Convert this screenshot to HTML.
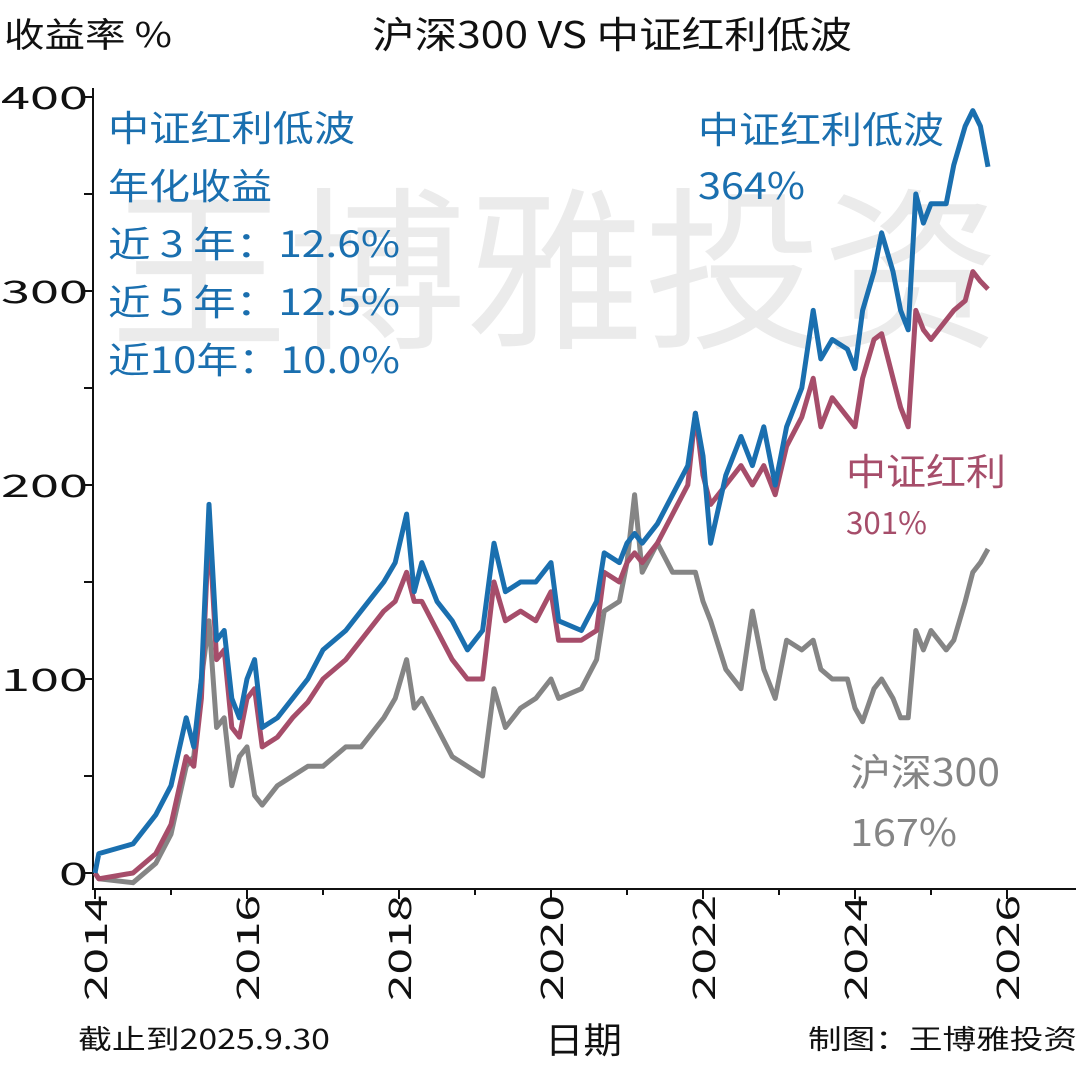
<!DOCTYPE html>
<html><head><meta charset="utf-8"><style>
body{margin:0;background:#fff;}
svg text{font-family:"Noto Sans CJK SC","Liberation Sans",sans-serif;}
</style></head><body>
<svg width="1080" height="1060" viewBox="0 0 1080 1060" xmlns="http://www.w3.org/2000/svg">
<text x="110" y="335" font-size="175" fill="#ebebeb" textLength="890" lengthAdjust="spacingAndGlyphs">王博雅投资</text>
<text x="4" y="47" font-size="34" fill="#111" textLength="168" lengthAdjust="spacingAndGlyphs">收益率 %</text>
<text x="372" y="48" font-size="37" fill="#111" textLength="480" lengthAdjust="spacingAndGlyphs">沪深300 VS 中证红利低波</text>
<g id="axes"></g>
<g id="series"></g>
<g fill="#1a6faf" font-size="36" lengthAdjust="spacingAndGlyphs">
<text x="108" y="141" textLength="247" lengthAdjust="spacingAndGlyphs">中证红利低波</text>
<text x="108" y="199" textLength="164" lengthAdjust="spacingAndGlyphs">年化收益</text>
<text x="108" y="257" textLength="292" lengthAdjust="spacingAndGlyphs">近 3 年：12.6%</text>
<text x="108" y="315" textLength="292" lengthAdjust="spacingAndGlyphs">近 5 年：12.5%</text>
<text x="108" y="373" textLength="292" lengthAdjust="spacingAndGlyphs">近10年：10.0%</text>
</g>
<g fill="#1a6faf" font-size="37"><text x="698" y="143" textLength="246" lengthAdjust="spacingAndGlyphs">中证红利低波</text><text x="698" y="199" textLength="107" lengthAdjust="spacingAndGlyphs">364%</text></g>
<g fill="#a64d6a" font-size="37"><text x="846" y="485" textLength="160" lengthAdjust="spacingAndGlyphs">中证红利</text><text x="846" y="534" font-size="31" textLength="81" lengthAdjust="spacingAndGlyphs">301%</text></g>
<g fill="#858585" font-size="38"><text x="850" y="786" textLength="150" lengthAdjust="spacingAndGlyphs">沪深300</text><text x="850" y="846" textLength="107" lengthAdjust="spacingAndGlyphs">167%</text></g>
<text x="78" y="1049" font-size="27" fill="#111" textLength="252" lengthAdjust="spacingAndGlyphs">截止到2025.9.30</text>
<text x="545" y="1053" font-size="36" fill="#111" textLength="77" lengthAdjust="spacingAndGlyphs">日期</text>
<text x="808" y="1049" font-size="27" fill="#111" textLength="269" lengthAdjust="spacingAndGlyphs">制图：王博雅投资</text>
</svg>
<script>
const dates=[2014.0,2014.05,2014.5,2014.8,2015.0,2015.2,2015.3,2015.4,2015.5,2015.6,2015.7,2015.8,2015.9,2016.0,2016.1,2016.2,2016.4,2016.6,2016.8,2017.0,2017.3,2017.5,2017.8,2017.95,2018.1,2018.2,2018.3,2018.5,2018.7,2018.9,2019.1,2019.25,2019.4,2019.6,2019.8,2020.0,2020.1,2020.4,2020.6,2020.7,2020.9,2021.0,2021.1,2021.2,2021.4,2021.6,2021.8,2021.9,2022.0,2022.1,2022.3,2022.5,2022.65,2022.8,2022.95,2023.1,2023.3,2023.45,2023.55,2023.7,2023.9,2024.0,2024.1,2024.25,2024.35,2024.5,2024.6,2024.7,2024.8,2024.9,2025.0,2025.2,2025.3,2025.45,2025.55,2025.65,2025.75];
const lowVol=[0,10,15,30,45,80,65,100,190,120,125,90,80,100,110,75,80,90,100,115,125,135,150,160,185,145,160,140,130,115,125,170,145,150,150,160,130,125,140,165,160,170,175,170,180,195,210,237,215,170,205,225,210,230,200,230,250,290,265,275,270,260,290,310,330,310,290,280,350,335,345,345,365,385,393,385,364];
const dividend=[0,-3,0,10,25,60,55,90,180,110,115,75,70,90,95,65,70,80,88,100,110,120,135,140,155,140,140,125,110,100,100,150,130,135,130,145,120,120,125,155,150,160,165,160,170,185,200,237,205,190,200,210,200,210,195,220,235,255,230,245,235,230,255,275,278,255,240,230,290,280,275,285,290,295,310,305,301];
const hs300=[0,-3,-5,5,20,55,60,100,130,75,80,45,60,65,40,35,45,50,55,55,65,65,80,90,110,85,90,75,60,55,50,95,75,85,90,100,90,95,110,135,140,160,195,155,170,155,155,155,140,130,105,95,135,105,90,120,115,120,105,100,100,85,78,95,100,90,80,80,125,115,125,115,120,140,155,160,167];
const yTicks=[0,100,200,300,400];
const xTicks=[2014,2016,2018,2020,2022,2024,2026];
const NS='http://www.w3.org/2000/svg';
const X=v=>95+(v-2014)*76, Y=v=>873-v*1.94;
function mk(t,a,p){const e=document.createElementNS(NS,t);for(const k in a)e.setAttribute(k,a[k]);p.appendChild(e);return e;}
const ax=document.getElementById('axes');
const yl=mk('line',{x1:93,y1:88,x2:93,y2:889,stroke:'#111','stroke-width':2},ax);


const xl=mk('line',{x1:92,y1:889,x2:1076,y2:889,stroke:'#111','stroke-width':2},ax);


for(let v=0;v<=400;v+=50){mk('line',{x1:84,x2:93,y1:Y(v),y2:Y(v),stroke:'#111','stroke-width':2},ax);}
yTicks.forEach(v=>{const s=String(v);const t=mk('text',{x:88,y:Y(v)+12,'font-size':31,'text-anchor':'end',fill:'#111',textLength:s.length*29,lengthAdjust:'spacingAndGlyphs'},ax);t.textContent=s;

});
for(let y=2014;y<=2026;y++){mk('line',{x1:X(y),x2:X(y),y1:889,y2:y%2?895:899,stroke:'#111','stroke-width':2},ax);}
xTicks.forEach(v=>{const t=mk('text',{x:0,y:0,'font-size':31,'text-anchor':'end',fill:'#111',textLength:106,lengthAdjust:'spacingAndGlyphs',transform:`translate(${X(v)+12},895) rotate(-90)`},ax);t.textContent=v;

});
const sg=document.getElementById('series');
[[hs300,'#858585','line-hs300'],[dividend,'#a64d6a','line-dividend'],[lowVol,'#1a6faf','line-lowvol']].forEach(([d,c,n])=>{
const p=mk('path',{d:d.map((v,i)=>(i?'L':'M')+X(dates[i]).toFixed(1)+','+Y(v).toFixed(1)).join(''),fill:'none',stroke:c,'stroke-width':5,'stroke-linejoin':'round'},sg);

});
</script>
</body></html>
